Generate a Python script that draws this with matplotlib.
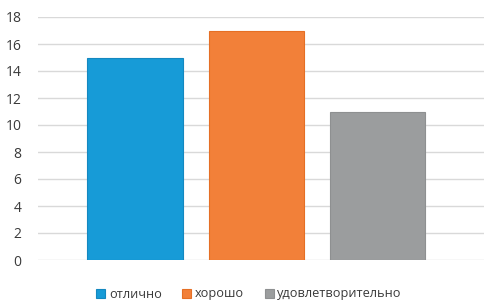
import numpy as np
import matplotlib
matplotlib.use('Agg')
import matplotlib.pyplot as plt

# --- data ---
categories = ['отлично', 'хорошо', 'удовлетворительно']
values = [15, 17, 11]
colors = ['#179bd7', '#f28039', '#9b9d9e']
edges = ['#1488c0', '#e56f25', '#8e9091']
yticks = [0, 2, 4, 6, 8, 10, 12, 14, 16, 18]

plt.rcParams['font.family'] = ['Open Sans', 'DejaVu Sans']

fig = plt.figure(figsize=(4.84, 3.0), dpi=100)
ax = fig.add_axes([38/484, 40/300, 1 - 38/484, 243/300])

x = np.arange(len(categories))
bars = []
for i in range(len(categories)):
    b = ax.bar(x[i], values[i], width=0.785, color=colors[i], edgecolor=edges[i],
               linewidth=0.8, label=categories[i], zorder=3)
    bars.append(b)

ax.set_xlim(-0.80, 2.88)
ax.set_ylim(0, 18)
ax.set_yticks(yticks)
ax.set_xticks([])
ax.yaxis.grid(True, color='#d9d9d9', linewidth=1.0, zorder=0)
for s in ax.spines.values():
    s.set_visible(False)
ax.tick_params(axis='y', length=0, pad=12, labelsize=10, labelcolor='#3a3a3a')

fig.legend(handles=bars, labels=categories, loc='center', ncol=3,
           bbox_to_anchor=(249/484, 6/300), frameon=False, fontsize=9.2,
           handlelength=0.7, handleheight=0.7, handletextpad=0.3,
           columnspacing=1.6, labelcolor='#3a3a3a')

fig.savefig('out.png', dpi=100)
